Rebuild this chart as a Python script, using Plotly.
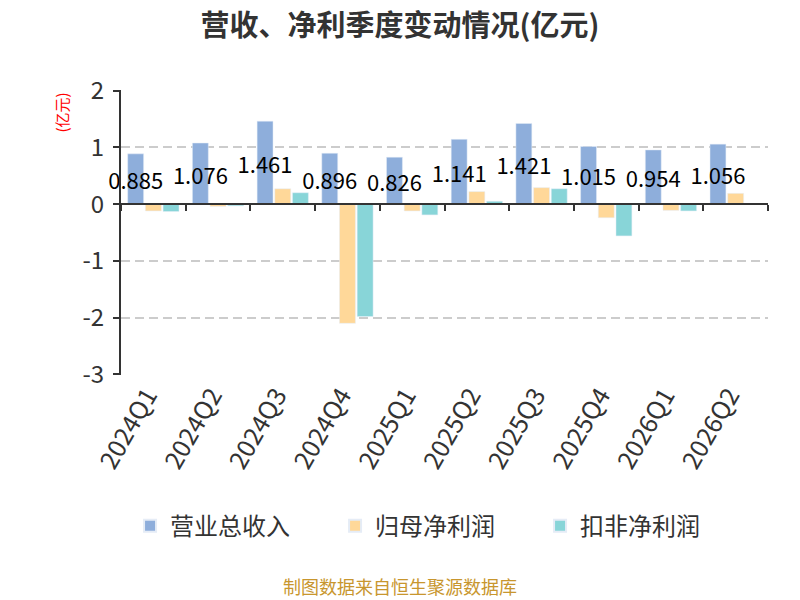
import plotly.graph_objects as go

# 季度营收、净利数据(亿元)
quarters = ['2024Q1', '2024Q2', '2024Q3', '2024Q4', '2025Q1',
            '2025Q2', '2025Q3', '2025Q4', '2026Q1', '2026Q2']
revenue = [0.885, 1.076, 1.461, 0.896, 0.826, 1.141, 1.421, 1.015, 0.954, 1.056]
net_profit = [-0.12, -0.04, 0.27, -2.10, -0.12, 0.22, 0.29, -0.24, -0.11, 0.19]
net_profit_ex = [-0.13, -0.03, 0.20, -1.98, -0.19, 0.05, 0.27, -0.56, -0.12, 0.01]
revenue_labels = ['%.3f' % v for v in revenue]
y_ticks = [-3, -2, -1, 0, 1, 2]
y_tick_text = ['-3', '-2', '-1', '0', '1', '2']

font_family = 'Noto Sans CJK SC, Noto Sans, sans-serif'

fig = go.Figure()
fig.add_trace(go.Bar(
    x=quarters, y=revenue, name='营业总收入', marker_color='#8EAEDB',
    text=revenue_labels, textposition='inside', insidetextanchor='middle',
    constraintext='none', textangle=0, cliponaxis=False,
    textfont=dict(size=22, color='#000000', family=font_family),
))
fig.add_trace(go.Bar(x=quarters, y=net_profit, name='归母净利润', marker_color='#FFD899'))
fig.add_trace(go.Bar(x=quarters, y=net_profit_ex, name='扣非净利润', marker_color='#88D5D8'))
# invisible trace so the zero-line axis gets drawn
fig.add_trace(go.Bar(x=quarters, y=[0] * len(quarters), xaxis='x2', showlegend=False,
                     hoverinfo='skip', marker_color='rgba(0,0,0,0)'))

fig.update_layout(
    width=800, height=600,
    margin=dict(l=113, r=40, t=82, b=233),
    paper_bgcolor='white', plot_bgcolor='white',
    font=dict(family=font_family, color='#333333'),
    title=dict(text='<b>营收、净利季度变动情况(亿元)</b>', x=0.49, y=0.971,
               xanchor='center', yanchor='middle',
               font=dict(size=29, color='#333333')),
    barmode='group', bargap=0.18, bargroupgap=0.1,
    xaxis=dict(showline=False, showgrid=False, ticks='', tickangle=-60,
               ticklabelshift=-6,
               tickfont=dict(size=25, color='#333333')),
    xaxis2=dict(overlaying='x', anchor='free', position=0.6, matches='x',
                showline=True, linecolor='#333333', linewidth=2,
                ticks='outside', tickson='boundaries', ticklen=6, tickwidth=2,
                tickcolor='#333333', showticklabels=False, showgrid=False),
    yaxis=dict(range=[-3.01, 2.01], tickvals=y_ticks, ticktext=y_tick_text,
               showline=True, linecolor='#333333', linewidth=2,
               ticks='outside', ticklen=6, tickwidth=2, tickcolor='#333333',
               gridcolor='#CCCCCC', griddash='9px,5px', gridwidth=1.5, zeroline=False,
               ticklabelstandoff=4,
               tickfont=dict(size=24, color='#333333')),
    legend=dict(orientation='h', x=0.014, xanchor='left',
                y=-0.53, yanchor='middle', entrywidth=160,
                font=dict(size=24, color='#333333'), itemsizing='constant'),
    annotations=[
        dict(text='(亿元)', x=-0.092, xref='paper', y=1.0, yref='paper', yanchor='top',
             xanchor='center', textangle=-90, showarrow=False,
             font=dict(size=15, color='#FF0000')),
        dict(text='制图数据来自恒生聚源数据库', x=0.431, xref='paper', xanchor='center',
             y=-0.74, yref='paper', yanchor='middle', showarrow=False,
             font=dict(size=18, color='#C8962E')),
    ],
)

fig.write_html('out.html')
